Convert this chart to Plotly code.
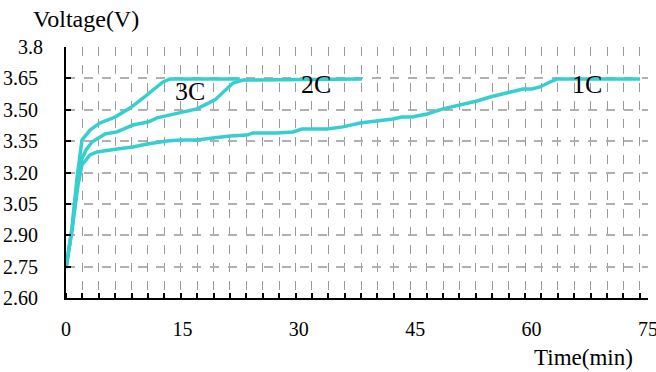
import plotly.graph_objects as go

# ---- data ----
t_3c = [0, 0.77, 1.42, 2.06, 3.09, 4.38, 6.31, 8.25, 9.92, 12.5, 13.4, 22.4]
v_3c = [2.743, 2.935, 3.174, 3.355, 3.403, 3.437, 3.465, 3.508, 3.556, 3.633, 3.647, 3.647]

t_2c = [0, 0.77, 1.42, 1.80, 2.58, 3.35, 5.03, 6.57, 8.63, 10.57, 11.73, 14.69,
        16.88, 19.20, 21.52, 22.81, 38.14]
v_2c = [2.743, 2.925, 3.140, 3.245, 3.308, 3.346, 3.384, 3.394, 3.427, 3.441, 3.461, 3.485,
        3.504, 3.547, 3.628, 3.642, 3.647]

t_1c = [0, 0.77, 1.55, 2.06, 3.09, 3.99, 6.57, 8.63, 10.44, 13.02, 14.69, 16.88, 18.94,
        21.13, 23.32, 24.10, 27.19, 29.25, 30.41, 33.63, 35.70, 37.89, 42.14, 43.30, 44.59,
        46.52, 48.58, 50.77, 52.96, 54.64, 56.83, 58.89, 60.05, 61.08, 62.11, 63.27, 73.97]
v_1c = [2.743, 2.925, 3.140, 3.236, 3.284, 3.298, 3.312, 3.322, 3.336, 3.351, 3.355, 3.355, 3.365,
        3.375, 3.379, 3.389, 3.389, 3.394, 3.408, 3.408, 3.418, 3.437, 3.456, 3.465, 3.465,
        3.480, 3.504, 3.523, 3.542, 3.561, 3.580, 3.599, 3.599, 3.609, 3.628, 3.647, 3.647]

series_names = ["3C", "2C", "1C"]
label_x = [16.0, 32.2, 67.1]
label_y = [3.585, 3.623, 3.623]

x_ticks = [0, 15, 30, 45, 60, 75]
y_ticks = [2.60, 2.75, 2.90, 3.05, 3.20, 3.35, 3.50, 3.65]
y_ticktext = ["2.60", "2.75", "2.90", "3.05", "3.20", "3.35", "3.50", "3.65"]
y_top_tick = [3.80]
y_top_text = ["3.8"]
y_range = [2.60, 3.80]

# ---- styling ----
LINE = "#36CFCF"
FONT = "Liberation Serif, Times New Roman, serif"
TICKFONT = dict(family=FONT, size=20, color="black")

fig = go.Figure()
for t, v, n in zip([t_3c, t_2c, t_1c], [v_3c, v_2c, v_1c], series_names):
    fig.add_trace(go.Scatter(x=t, y=v, mode="lines", name=n, hoverinfo="skip",
                             line=dict(color=LINE, width=3.5), showlegend=False))

for n, lx, ly in zip(series_names, label_x, label_y):
    fig.add_annotation(x=lx, y=ly, text=n, showarrow=False,
                       xanchor="center", yanchor="middle",
                       font=dict(family=FONT, size=26, color="black"))

fig.add_annotation(xref="paper", yref="paper", x=0.034, y=1.112, text="Voltage(V)",
                   xanchor="center", yanchor="middle",
                   showarrow=False, font=dict(family=FONT, size=24, color="black"))
fig.add_annotation(xref="paper", yref="paper", x=0.89, y=-0.239, text="Time(min)",
                   xanchor="center", yanchor="middle",
                   showarrow=False, font=dict(family=FONT, size=23, color="black"))

fig.update_xaxes(range=[0, 75], tickvals=x_ticks, ticktext=[str(v) for v in x_ticks],
                 showgrid=False, zeroline=False, automargin=False,
                 showline=True, linecolor="black", linewidth=2,
                 ticks="", ticklabelstandoff=12, ticklabeloverflow="allow",
                 tickfont=TICKFONT,
                 minor=dict(tick0=0, dtick=75 / 35.5, ticks="inside", ticklen=5,
                            tickcolor="black", tickwidth=1.5,
                            showgrid=True, gridcolor="#9a9a9a", gridwidth=1,
                            griddash="dash"))
fig.update_layout(
    yaxis=dict(range=y_range, tickvals=y_ticks, ticktext=y_ticktext,
               showgrid=True, gridcolor="#b0b0b0", gridwidth=1.5, griddash="dash",
               zeroline=False, showline=True, linecolor="black", linewidth=2,
               automargin=False, ticklabeloverflow="allow",
               ticks="inside", ticklen=5, tickcolor="black", tickwidth=2,
               ticklabelstandoff=22, tickfont=TICKFONT),
    yaxis2=dict(range=y_range, overlaying="y", side="left", anchor="x",
                tickvals=y_top_tick, ticktext=y_top_text,
                showgrid=False, zeroline=False, showline=False,
                automargin=False, ticklabeloverflow="allow",
                ticks="inside", ticklen=5, tickcolor="black", tickwidth=2,
                ticklabelstandoff=22, tickfont=TICKFONT),
)
# invisible helper trace so the second y axis is drawn
fig.add_trace(go.Scatter(x=[None], y=[None], yaxis="y2", showlegend=False,
                         hoverinfo="skip"))

fig.update_layout(width=656, height=372,
                  margin=dict(l=66, r=8, t=47, b=74, autoexpand=False),
                  plot_bgcolor="white", paper_bgcolor="white")

fig.write_html("out.html", config={"displayModeBar": False},
               post_script="document.body.style.margin='0';document.body.style.overflow='hidden';")
